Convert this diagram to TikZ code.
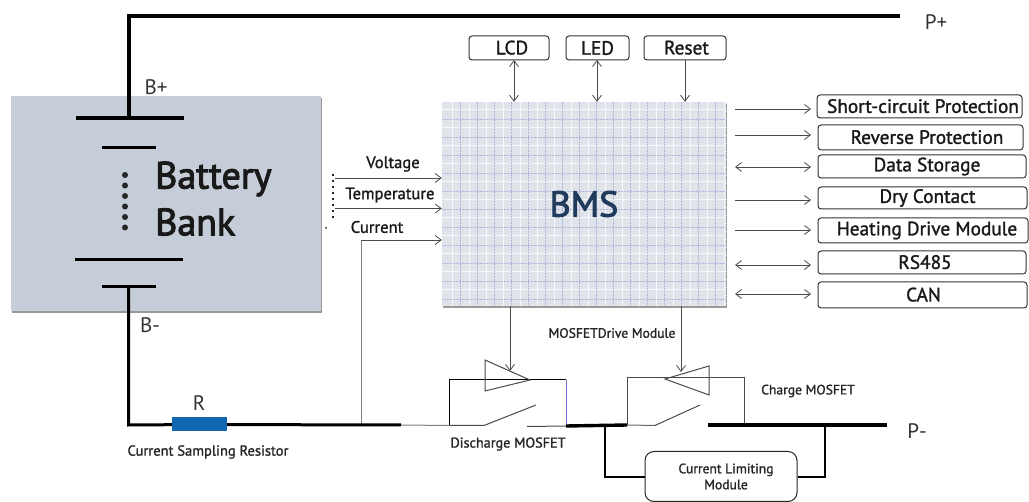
\documentclass[tikz,border=0pt]{standalone}
\usepackage{fontspec}
\setmainfont{PT Sans}
\newfontfamily\medfont{PT Sans}[FakeBold=1.4]
\newfontfamily\heavyfont{PT Sans}[FakeBold=2.6]
\usetikzlibrary{arrows.meta,calc}
\definecolor{bankfill}{HTML}{C5CED8}
\definecolor{bmsfill}{HTML}{E0E4E8}
\definecolor{bmsdot}{HTML}{8A98CC}
\definecolor{thinline}{HTML}{4A4A4A}
\definecolor{resblue}{HTML}{0F67B1}
\definecolor{bmstext}{HTML}{1F3A5C}
\definecolor{labelgray}{HTML}{333333}
\newcommand{\boxtxt}[2]{\hspace*{#1pt}\raisebox{1pt}{#2}}
\tikzset{
  x=1pt,y=-1pt,
  power/.style={line width=3.4pt,black,line cap=butt},
  plate/.style={line width=3pt,black},
  wirethin/.style={line width=1pt,thinline},
  sig/.style={line width=.8pt,thinline,-{Straight Barb[length=6pt,width=9pt,line width=.8pt]}},
  sigboth/.style={line width=.8pt,thinline,{Straight Barb[length=6pt,width=9pt,line width=.8pt]}-{Straight Barb[length=6pt,width=9pt,line width=.8pt]}},
  rbox/.style={draw=black!80,line width=1pt,rounded corners=3pt,inner sep=0pt,anchor=center,font=\medfont\fontsize{19.3}{19}\selectfont,text=black!90},
  lbl/.style={inner sep=0pt,text=black!90,font=\medfont\fontsize{16.6}{16}\selectfont},
  small/.style={inner sep=0pt,text=black!85,font=\medfont\fontsize{13.6}{14}\selectfont},
  term/.style={inner sep=0pt,text=labelgray,font=\fontsize{21}{21}\selectfont},
}
\newcommand{\rightbox}[7]{% name, x1, x2, y1, y2, offset, text
  \node[rbox,minimum width=#3pt-#2pt,minimum height=#5pt-#4pt] (#1) at ({(#2+#3)/2},{(#4+#5)/2}) {\boxtxt{#6}{#7}};}
\begin{document}
\begin{tikzpicture}
\useasboundingbox (0,0) rectangle (1029,502);
% battery bank
\fill[black!40] (11.5,98) rectangle (321.5,313);
\node[fill=bankfill,minimum width=310pt,minimum height=215pt,inner sep=0pt] (bank) at (166,203.5) {};
% BMS
\fill[black!40] (442.5,104) rectangle (726.5,308);
\node[fill=bmsfill,minimum width=284pt,minimum height=204pt,inner sep=0pt] (bms) at (584,204) {};
\foreach \xx in {443,451,...,725} \draw[bmsdot!30,line width=.5pt,densely dotted] (\xx,102) -- (\xx,306);
\foreach \yy in {103,111,...,305} \draw[bmsdot!30,line width=.5pt,densely dotted] (442,\yy) -- (726,\yy);
\foreach \xx in {452,469,...,724} \draw[white!70!bmsfill,line width=1pt] (\xx,102) -- (\xx,306);
\foreach \yy in {110,128,...,304} \draw[white!70!bmsfill,line width=1pt] (442,\yy) -- (726,\yy);
\foreach \xx in {460,477,...,724} \draw[bmsdot!70,line width=.5pt,densely dotted] (\xx,102) -- (\xx,306);
\foreach \yy in {119,137,...,304} \draw[bmsdot!70,line width=.5pt,densely dotted] (442,\yy) -- (726,\yy);
\node[inner sep=0pt,text=bmstext,font=\heavyfont\fontsize{36}{36}\selectfont] (bmslabel) at (584,204) {BMS};

% battery symbol
\coordinate (plateA) at (129,118);
\coordinate (plateD) at (128.5,286.5);
\coordinate (topcorner) at (129,16);
\coordinate (pplus) at (900,16);
\draw[power,line join=miter] (plateA) -- (topcorner) -- (pplus);
\draw[line width=4.5pt] (76,118) -- (184,118);
\draw[plate] (102,148) -- (156,148);
\foreach \yy in {175,185.5,...,228} \fill[black!85] (125,\yy) circle (3pt);
\draw[plate] (75,260) -- (183,260);
\draw[plate] (102,286.5) -- (156,286.5);
\node[anchor=west,inner sep=0pt,font=\heavyfont\fontsize{38}{38}\selectfont,text=black!90] (battery) at (155,179) {Battery};
\node[anchor=west,inner sep=0pt,font=\heavyfont\fontsize{38}{38}\selectfont,text=black!90] (banktxt) at (155,222) {Bank};

% terminals
\node[term] (bplus) at (156,87) {B+};
\node[term] (bminus) at (150,325) {B-};
\node[term] (pplustxt) at (936,22) {P+};
\node[term] (pminustxt) at (917,431) {P-};
\node[term] (rtxt) at (199,403) {R};

% top boxes
\node[rbox,minimum width=80pt,minimum height=24pt] (lcd) at (509,48) {\boxtxt{6}{LCD}};
\node[rbox,minimum width=63pt,minimum height=24pt] (led) at (597.5,48) {LED};
\node[rbox,minimum width=82pt,minimum height=24pt] (reset) at (685,48) {\boxtxt{3}{Reset}};
\coordinate (lcdbot) at (514,60);
\coordinate (ledbot) at (597,60);
\coordinate (resetbot) at (685,60);
\draw[sigboth] (lcdbot) -- (lcdbot |- bms.north);
\draw[sigboth,line width=1pt] (ledbot) -- (ledbot |- bms.north);
\draw[sig] (resetbot) -- (resetbot |- bms.north);

% right boxes
\rightbox{short}{817}{1022}{95}{118}{7}{Short-circuit Protection}
\rightbox{reverse}{818}{1023}{125}{150}{13}{Reverse Protection}
\rightbox{data}{818}{1026}{155}{178}{10}{Data Storage}
\rightbox{dry}{818}{1027}{187}{209}{10}{Dry Contact}
\rightbox{heat}{818}{1028}{218}{243}{8}{Heating Drive Module}
\rightbox{rs}{818}{1026}{251}{274}{6}{RS485}
\rightbox{can}{818}{1027}{282}{308}{2}{CAN}
\foreach \nm/\yy in {short/109,reverse/135,dry/200,heat/230}
  \draw[sig] (735,\yy) -- (811,\yy);
\foreach \nm/\yy in {data/167,rs/265,can/294}
  \draw[sigboth] (735,\yy) -- (811,\yy);

% sensing inputs
\coordinate (vstart) at (335,178);
\coordinate (tstart) at (335,208.5);
\coordinate (ccorner) at (361,240);
\draw[sig] (vstart) -- (vstart -| bms.west);
\draw[sig] (tstart) -- (tstart -| bms.west);
\coordinate (cjoin) at (361,425);
\draw[line width=1pt,black!50] (cjoin) -- (ccorner);
\draw[sig] (ccorner) -- (ccorner -| bms.west);
\draw[black!85,line width=1.6pt,dash pattern=on 1.6pt off 4.4pt] (333,174) -- (333,220);
\fill[black!85] (326,228) circle (1pt);
\node[lbl] (vtxt) at (393,164) {Voltage};
\node[lbl] (ttxt) at (390,195) {Temperature};
\node[lbl] (ctxt) at (377,227) {Current};

% bottom wire
\coordinate (blcorner) at (128.5,425);
\node[fill=resblue,minimum width=55pt,minimum height=14pt,inner sep=0pt] (res) at (199.5,424.5) {};
\coordinate (w1end) at (401,425);
\draw[power,line width=3pt] (plateD) -- (blcorner) -- (res);
\draw[power,line width=3pt] (res) -- (w1end);

% discharge MOSFET
\coordinate (dA) at (449.5,425.5);
\coordinate (dArm) at (484,425.5);
\coordinate (dTip) at (536,405);
\coordinate (dContact) at (527,426.5);
\coordinate (dB) at (566,426);
\coordinate (dTopL) at (449.5,380);
\coordinate (dTopR) at (566,380);
\draw[wirethin,black!50] (w1end) -- (dA);
\draw[wirethin] (dA) -- (dArm) -- (dTip);
\draw[wirethin] (dContact) -- (dB);
\draw[wirethin,black] (dA) -- (dTopL) -- (dTopR);
\draw[line width=1pt,blue!45!gray!80] (dTopR) -- (dB);
\draw[wirethin,line join=miter] (485,360) -- (485,391) -- (530,380) -- cycle;
\coordinate (dDrv) at (510,306);
\draw[sig] (dDrv) -- (510,371);

% mid bus
\coordinate (cA) at (627,425);
\coordinate (brDown) at (605,425);
\coordinate (brCorner) at (605,477);
\draw[power,line width=3.4pt] (dB) -- (cA);
\node[draw=black!85,line width=1pt,rounded corners=9pt,minimum width=152pt,minimum height=50pt,inner sep=0pt,align=center,font=\medfont\fontsize{13.6}{16}\selectfont,text=black!85] (limit) at (721,476.5) {\hspace*{10pt}Current Limiting\\\hspace*{10pt}Module};
\draw[power,line width=2.4pt,line join=miter] (brDown) -- (brCorner) -- (limit.west |- brCorner);

% charge MOSFET
\coordinate (cArm) at (655,425.5);
\coordinate (cTip) at (700,405);
\coordinate (cTopL) at (627,378);
\coordinate (cTopR) at (744,378);
\coordinate (pStart) at (708,425);
\coordinate (pEnd) at (887,425);
\coordinate (cB) at (744,425);
\coordinate (cBr) at (825,425);
\coordinate (cBrC) at (825,477);
\draw[wirethin,black!60] (cA) -- (cArm);
\draw[wirethin] (cArm) -- (cTip);
\draw[wirethin] (cA) -- (cTopL) -- (cTopR) -- (cB);
\draw[wirethin,line join=miter] (709,366) -- (709,395) -- (665,379) -- cycle;
\coordinate (cDrv) at (681,306);
\draw[sig,line width=1pt] (cDrv) -- (681,372);
\draw[power] (pStart) -- (pEnd);
\draw[power,line width=2.4pt,line join=miter] (cBr) -- (cBrC) -- (limit.east |- cBrC);

% small labels
\node[small] (drvtxt) at (612,333) {MOSFETDrive Module};
\node[small] (chtxt) at (808,391) {Charge MOSFET};
\node[small,font=\medfont\fontsize{14.2}{14}\selectfont] (distxt) at (508,444) {Discharge MOSFET};
\node[small,font=\medfont\fontsize{14.5}{14}\selectfont] (sensetxt) at (208,452) {Current Sampling Resistor};
\end{tikzpicture}
\end{document}
